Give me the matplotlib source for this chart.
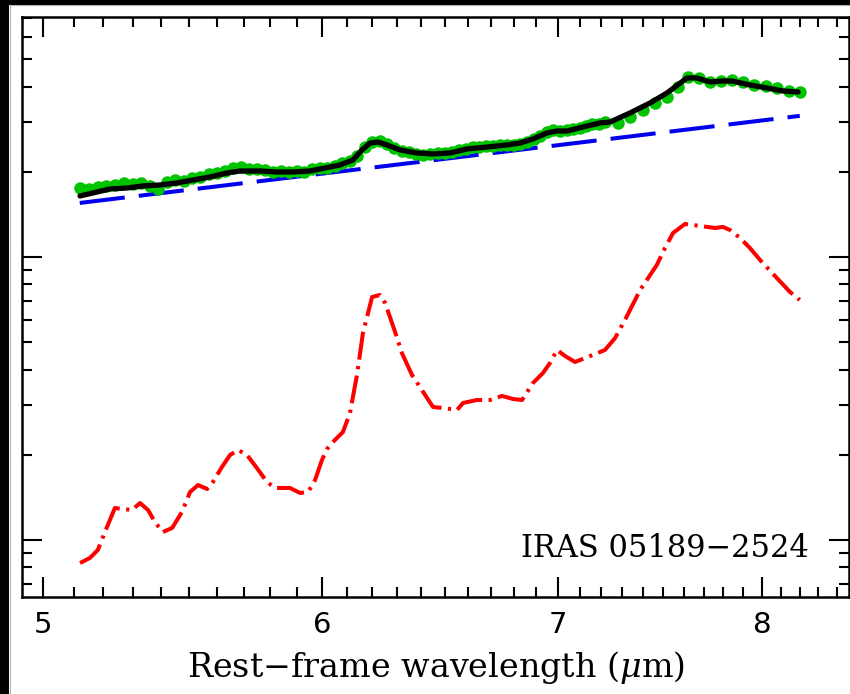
import numpy as np
import matplotlib
matplotlib.use("Agg")
import matplotlib.pyplot as plt
from matplotlib.ticker import FixedLocator, NullFormatter, LogLocator, FormatStrFormatter
from matplotlib.patches import Rectangle

plt.rcParams['mathtext.fontset'] = 'dejavuserif'

# Observed spectrum (rest-frame wavelength in micron, flux in arbitrary units)
obs_wave = [5.12, 5.15, 5.18, 5.21, 5.24, 5.27, 5.30, 5.33, 5.36, 5.39,
            5.42, 5.45, 5.48, 5.51, 5.54, 5.57, 5.60, 5.63, 5.66, 5.69,
            5.72, 5.75, 5.78, 5.81, 5.84, 5.87, 5.90, 5.93, 5.96, 5.99,
            6.02, 6.05, 6.08, 6.11, 6.14, 6.17, 6.20, 6.23, 6.26, 6.29,
            6.32, 6.35, 6.38, 6.41, 6.44, 6.47, 6.50, 6.53, 6.56, 6.59,
            6.62, 6.65, 6.68, 6.71, 6.74, 6.77, 6.80, 6.83, 6.86, 6.89,
            6.92, 6.95, 6.98, 7.01, 7.04, 7.07, 7.10, 7.13, 7.16, 7.19,
            7.22, 7.28, 7.34, 7.40, 7.46, 7.52, 7.57, 7.62, 7.675, 7.73,
            7.79, 7.845, 7.90, 7.96, 8.02, 8.08, 8.14, 8.20]
obs_flux = [17.53, 17.39, 17.68, 17.82, 17.97, 18.26, 18.11, 18.26, 17.82, 17.39,
            18.41, 18.71, 18.56, 19.02, 19.17, 19.65, 19.81, 20.13, 20.63, 20.80,
            20.46, 20.46, 20.30, 19.97, 20.13, 19.97, 20.13, 19.97, 20.46, 20.63,
            20.63, 20.97, 21.49, 21.84, 22.75, 24.47, 25.49, 25.70, 25.08, 24.28,
            23.69, 23.50, 23.12, 22.94, 23.12, 23.31, 23.31, 23.50, 23.89, 24.08,
            24.47, 24.47, 24.67, 24.67, 24.88, 24.88, 24.88, 25.08, 25.49, 26.12,
            26.77, 27.65, 28.11, 27.87, 28.11, 28.34, 28.57, 29.04, 29.51, 29.51,
            29.99, 29.76, 31.24, 33.07, 35.01, 36.76, 39.87, 43.26, 42.91, 41.53,
            41.87, 42.21, 41.53, 40.53, 40.21, 39.55, 38.60, 38.29]

# Total model fit
fit_wave = [5.121, 5.165, 5.222, 5.281, 5.336, 5.396, 5.456, 5.514, 5.575, 5.638,
            5.686, 5.761, 5.825, 5.887, 5.952, 5.991, 6.070, 6.122, 6.158, 6.191,
            6.223, 6.260, 6.313, 6.384, 6.451, 6.523, 6.596, 6.683, 6.771, 6.829,
            6.887, 6.950, 6.996, 7.042, 7.116, 7.196, 7.243, 7.338, 7.435, 7.518,
            7.617, 7.667, 7.732, 7.798, 7.844, 7.937, 8.026, 8.111, 8.191]
fit_flux = [16.43, 16.84, 17.39, 17.53, 17.82, 17.97, 18.26, 18.71, 19.17, 19.81,
            20.13, 20.13, 19.97, 19.97, 20.13, 20.46, 21.14, 22.02, 23.89, 25.28,
            25.49, 24.88, 23.89, 23.31, 23.12, 23.31, 24.08, 24.47, 24.88, 25.28,
            26.12, 27.43, 27.87, 27.87, 28.80, 29.76, 29.99, 32.27, 35.01, 37.98,
            42.91, 42.91, 41.53, 41.87, 41.87, 40.53, 39.55, 38.60, 38.29]

# Power-law continuum
cont_wave = [5.12, 6.0, 7.0, 8.2]
cont_flux = [15.52, 19.70, 24.83, 31.52]

# PAH emission component
pah_wave = [5.121, 5.154, 5.181, 5.205, 5.239, 5.267, 5.298, 5.326, 5.354, 5.378,
            5.406, 5.439, 5.474, 5.503, 5.532, 5.565, 5.586, 5.619, 5.649, 5.679,
            5.712, 5.749, 5.787, 5.818, 5.875, 5.914, 5.945, 5.972, 5.999, 6.019,
            6.050, 6.082, 6.110, 6.138, 6.162, 6.199, 6.231, 6.252, 6.293, 6.321,
            6.363, 6.396, 6.451, 6.493, 6.553, 6.579, 6.639, 6.696, 6.749, 6.798,
            6.838, 6.887, 6.932, 6.964, 6.996, 7.033, 7.079, 7.149, 7.219, 7.267,
            7.314, 7.387, 7.468, 7.508, 7.548, 7.607, 7.682, 7.758, 7.798, 7.834,
            7.886, 7.937, 7.990, 8.068, 8.148, 8.200]
pah_flux = [0.829, 0.864, 0.922, 1.067, 1.297, 1.287, 1.276, 1.351, 1.276, 1.158,
            1.067, 1.103, 1.256, 1.478, 1.564, 1.514, 1.603, 1.811, 1.997, 2.080,
            1.997, 1.796, 1.603, 1.527, 1.527, 1.466, 1.478, 1.629, 1.917, 2.097,
            2.256, 2.408, 2.811, 3.828, 5.387, 7.222, 7.340, 6.877, 5.433, 4.579,
            3.828, 3.472, 2.951, 2.927, 2.880, 3.049, 3.124, 3.124, 3.228, 3.149,
            3.124, 3.587, 3.891, 4.221, 4.692, 4.468, 4.256, 4.468, 4.692, 5.172,
            5.989, 7.645, 9.369, 10.76, 12.16, 13.08, 12.87, 12.66, 12.77, 12.46,
            11.67, 10.76, 9.758, 8.568, 7.520, 7.047]

object_name = "IRAS 05189\u22122524"
x_major = [5, 6, 7, 8]
x_label = r"Rest$-$frame wavelength ($\mu$m)"

W, H = 850, 694
fig = plt.figure(figsize=(W / 100, H / 100), dpi=100)
fig.patch.set_facecolor("white")

# dark frame strips along the left and top edges
fig.patches.append(Rectangle((0, 0), 9 / W, 1, transform=fig.transFigure,
                             facecolor="black", edgecolor="none", zorder=-5))
fig.patches.append(Rectangle((0, 1 - 4.5 / H), 1, 4.5 / H, transform=fig.transFigure,
                             facecolor="black", edgecolor="none", zorder=-5))
fig.add_artist(plt.Line2D([9.5 / W, 9.5 / W], [0, 1 - 4.5 / H], transform=fig.transFigure,
                          color="#b0b0b0", lw=0.8))
fig.add_artist(plt.Line2D([9.5 / W, 1], [1 - 5 / H, 1 - 5 / H], transform=fig.transFigure,
                          color="#b0b0b0", lw=0.8))

ax = fig.add_axes([22 / W, 1 - 597 / H, 826.5 / W, 580.5 / H])
ax.set_xscale("log")
ax.set_yscale("log")

ax.plot(cont_wave, cont_flux, color="#0000ee", lw=2.9,
        linestyle=(0, (11.25, 3.5)), zorder=2)
ax.plot(obs_wave, obs_flux, linestyle="none", marker="o", ms=9.0, mew=0,
        color="#00c400", zorder=3)
ax.plot(fit_wave, fit_flux, color="black", lw=3.8, zorder=4,
        solid_joinstyle="round", solid_capstyle="round")
ax.plot(pah_wave, pah_flux, color="#ff0000", lw=2.9,
        linestyle=(0, (7.0, 1.6, 0.8, 1.6)), zorder=3)

ax.set_xlim(4.9302, 8.4657)
ax.set_ylim(0.6289, 70.75)

ax.xaxis.set_major_locator(FixedLocator(x_major))
ax.xaxis.set_major_formatter(FormatStrFormatter("%d"))
ax.xaxis.set_minor_locator(FixedLocator([v / 10 for v in range(49, 86) if v % 10]))
ax.xaxis.set_minor_formatter(NullFormatter())
ax.yaxis.set_major_locator(LogLocator(base=10))
ax.yaxis.set_minor_locator(LogLocator(base=10, subs=np.arange(2, 10)))
ax.yaxis.set_major_formatter(NullFormatter())
ax.yaxis.set_minor_formatter(NullFormatter())

ax.tick_params(which="both", direction="in", top=True, right=True, width=1.5,
               color="black")
ax.tick_params(which="major", length=14.4)
ax.tick_params(which="minor", length=7.2)
ax.tick_params(axis="x", which="major", labelsize=21, pad=10)
for lab in ax.get_xticklabels():
    lab.set_family("DejaVu Sans")
for sp in ax.spines.values():
    sp.set_linewidth(1.8)

ax.set_xlabel(x_label, fontsize=24, family="DejaVu Serif")
ax.xaxis.set_label_coords(0.501, -0.1223)
ax.xaxis.label.set_va("center")

ax.text(0.9516, 0.0827, object_name, transform=ax.transAxes, ha="right",
        va="center", fontsize=22, family="DejaVu Serif")

fig.savefig("out.png", dpi=100, facecolor=fig.get_facecolor())
